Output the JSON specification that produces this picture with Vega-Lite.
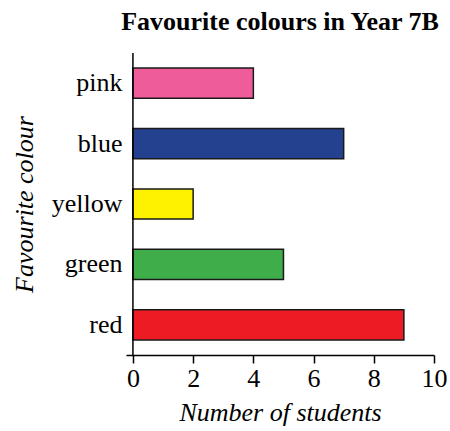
{
  "$schema": "https://vega.github.io/schema/vega-lite/v6.json",
  "autosize": "none",
  "width": 308,
  "height": 302,
  "padding": {"left": 126, "top": 53, "right": 16, "bottom": 76},
  "background": "white",
  "config": {
    "font": "Liberation Serif, Times New Roman, serif",
    "view": {"stroke": null},
    "axis": {"labelColor": "#000", "titleColor": "#000", "domainColor": "#000", "tickColor": "#000", "grid": false}
  },
  "title": {
    "text": "Favourite colours in Year 7B",
    "font": "Liberation Serif, Times New Roman, serif",
    "fontSize": 26,
    "fontWeight": "bold",
    "color": "#000",
    "offset": 17
  },
  "data": {
    "values": [
      {"colour": "pink", "students": 4},
      {"colour": "blue", "students": 7},
      {"colour": "yellow", "students": 2},
      {"colour": "green", "students": 5},
      {"colour": "red", "students": 9}
    ]
  },
  "layer": [
    {
      "mark": {"type": "bar", "stroke": "#1a1a1a", "strokeWidth": 1.5},
      "encoding": {
        "y": {
          "field": "colour",
          "type": "nominal",
          "sort": ["pink", "blue", "yellow", "green", "red"],
          "scale": {"paddingInner": 0.5, "paddingOuter": 0.25},
          "axis": {
            "title": "Favourite colour",
            "titleFont": "Liberation Serif, Times New Roman, serif",
            "labelFont": "Liberation Serif, Times New Roman, serif",
            "titleFontSize": 26,
            "titleFontStyle": "italic",
            "titleFontWeight": "normal",
            "labelFontSize": 26,
            "ticks": false,
            "domain": false,
            "labelPadding": 4,
            "titlePadding": 14
          }
        },
        "x": {
          "field": "students",
          "type": "quantitative",
          "scale": {"domain": [-0.23, 10], "nice": false, "zero": false},
          "axis": {
            "title": "Number of students",
            "titleFont": "Liberation Serif, Times New Roman, serif",
            "labelFont": "Liberation Serif, Times New Roman, serif",
            "titleFontSize": 26,
            "titleFontStyle": "italic",
            "titleFontWeight": "normal",
            "labelFontSize": 26,
            "values": [0, 2, 4, 6, 8, 10],
            "tickSize": 8,
            "tickWidth": 1.5,
            "domainWidth": 1.5,
            "labelPadding": 2,
            "labelFlush": false,
            "titlePadding": 8
          }
        },
        "color": {
          "field": "colour",
          "type": "nominal",
          "scale": {
            "domain": ["pink", "blue", "yellow", "green", "red"],
            "range": ["#EE5C9A", "#24418F", "#FFF200", "#3FAE4A", "#ED1C24"]
          },
          "legend": null
        }
      }
    },
    {
      "data": {"values": [{"v": 0}]},
      "mark": {"type": "rule", "color": "#000", "strokeWidth": 1.5},
      "encoding": {"x": {"field": "v", "type": "quantitative"}}
    }
  ]
}
